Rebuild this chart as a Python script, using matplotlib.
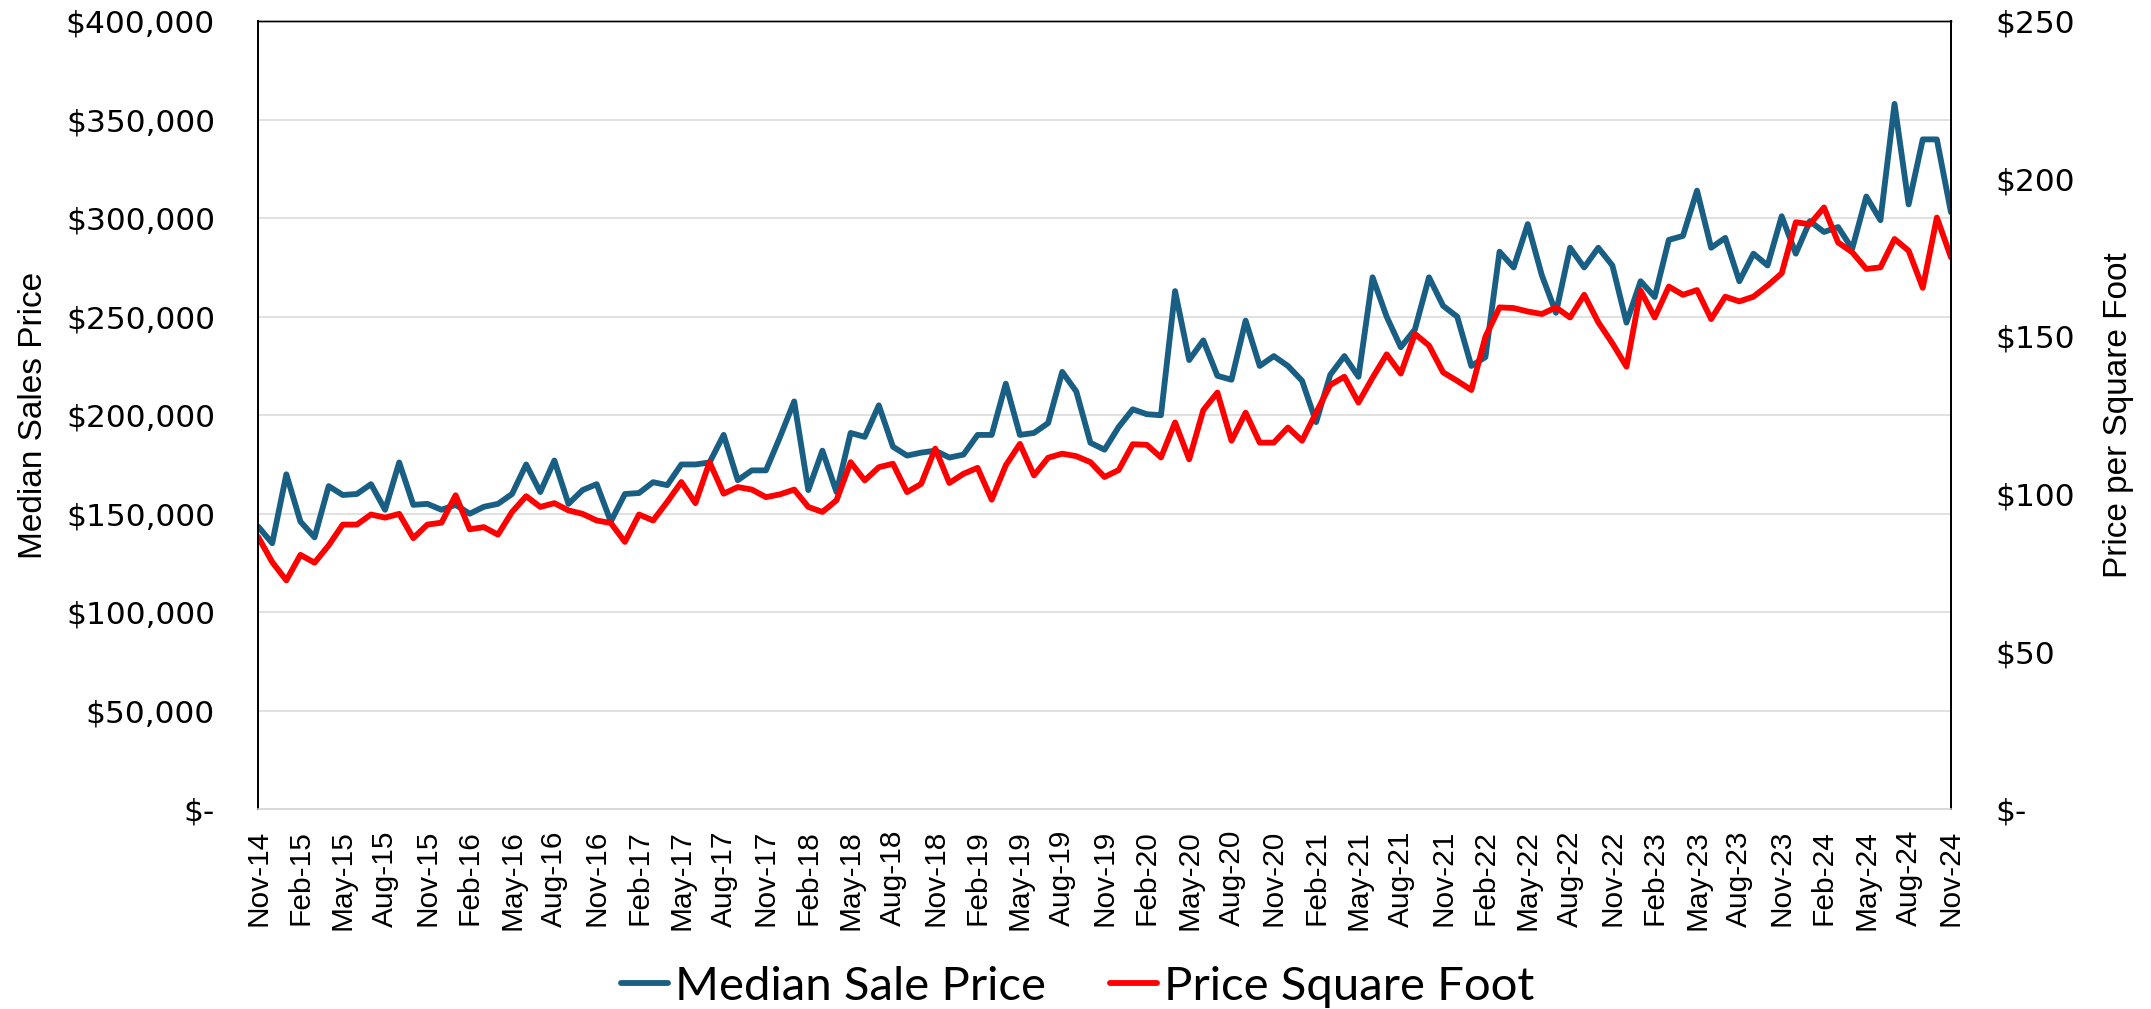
import matplotlib
matplotlib.use("Agg")
import matplotlib.pyplot as plt
import pandas as pd
from matplotlib.ticker import FuncFormatter, MultipleLocator

# monthly categories, Nov-14 .. Nov-24
months = pd.date_range("2014-11-01", periods=121, freq="MS")
month_labels = list(months.strftime("%b-%y"))

median_sale_price = [
    143500, 135000, 170000, 146000, 138000, 164000, 159500, 160000, 165000, 152000,
    176000, 154500, 155000, 152000, 154500, 150000, 153500, 155000, 160000, 175000,
    161000, 177000, 155000, 162000, 165000, 146000, 160000, 160500, 166000, 164500,
    175000, 175000, 176000, 190000, 167000, 172000, 172000, 189000, 207000, 162000,
    182000, 161000, 191000, 189000, 205000, 184000, 179500, 181000, 182000, 178500,
    180000, 190000, 190000, 216000, 190000, 191000, 196000, 222000, 212000, 186000,
    182500, 194000, 203000, 200500, 200000, 263000, 228000, 238000, 220000, 218000,
    248000, 225000, 230000, 225000, 217500, 196500, 220500, 230000, 219500, 270000,
    250000, 234500, 243500, 270000, 255500, 250000, 225000, 229500, 283000, 275000,
    297000, 271000, 252000, 285000, 275000, 285000, 276000, 247000, 268000, 260000,
    289000, 291000, 314000, 285000, 290000, 268000, 282000, 276000, 301000, 282000,
    298500, 293000, 295500, 284500, 311000, 299000, 358000, 307000, 340000, 340000,
    303000,
]

price_square_foot = [
    86.4, 78.4, 72.6, 80.7, 78.2, 83.7, 90.3, 90.3, 93.5, 92.5,
    93.7, 86.0, 90.3, 90.9, 99.6, 88.8, 89.5, 87.1, 94.3, 99.3,
    95.9, 97.1, 94.8, 93.7, 91.6, 90.8, 84.8, 93.5, 91.6, 97.5,
    103.8, 97.1, 110.1, 100.1, 102.2, 101.4, 99.0, 99.9, 101.4, 95.9,
    94.3, 98.0, 110.1, 104.3, 108.5, 109.6, 100.6, 103.2, 114.4, 103.5,
    106.4, 108.3, 98.2, 109.1, 115.9, 105.9, 111.5, 112.8, 112.0, 110.1,
    105.4, 107.6, 115.8, 115.6, 111.6, 122.7, 111.0, 126.6, 132.2, 116.9,
    125.8, 116.3, 116.3, 121.1, 116.9, 125.8, 134.6, 137.2, 129.0, 136.9,
    144.3, 138.2, 150.8, 147.1, 138.6, 135.9, 133.0, 149.9, 159.2, 159.0,
    157.9, 157.1, 159.2, 156.0, 163.2, 154.5, 147.8, 140.4, 164.5, 156.0,
    165.8, 163.2, 164.7, 155.5, 162.6, 161.1, 162.6, 166.1, 170.0, 186.2,
    185.6, 190.9, 179.8, 176.7, 171.4, 171.9, 180.9, 177.2, 165.4, 187.7,
    175.1,
]

BLUE = "#195E83"
RED = "#FF0000"
GRID = "#D9D9D9"


def dollars(v, _pos):
    if v == 0:
        return "$-"
    return "${:,.0f}".format(v)


fig = plt.figure(figsize=(21.51, 10.09), dpi=100)
ax = fig.add_axes([0.12, 0.198, 0.787, 0.781])
ax2 = ax.twinx()

x = range(len(month_labels))
ax.plot(x, median_sale_price, color=BLUE, lw=4.2, label="Median Sale Price",
        solid_joinstyle="round", solid_capstyle="round")
ax2.plot(x, price_square_foot, color=RED, lw=4.2, label="Price Square Foot",
         solid_joinstyle="round", solid_capstyle="round")

ax.set_xlim(0, len(month_labels) - 1)
ax.set_ylim(0, 400000)
ax2.set_ylim(0, 250)
ax.yaxis.set_major_locator(MultipleLocator(50000))
ax2.yaxis.set_major_locator(MultipleLocator(50))
ax.yaxis.set_major_formatter(FuncFormatter(dollars))
ax2.yaxis.set_major_formatter(FuncFormatter(dollars))

ax.set_xticks(list(x)[::3])
ax.set_xticklabels(month_labels[::3], rotation=90, fontsize=21.5,
                   family="Liberation Sans", va="top")

ax.grid(axis="y", color=GRID, lw=1.1)
ax.set_axisbelow(True)

ax.tick_params(axis="x", length=0, pad=15)
ax.tick_params(axis="y", length=0, pad=31, labelsize=22.5)
ax2.tick_params(axis="y", length=0, pad=32, labelsize=22.5)
for lab in ax.get_yticklabels() + ax2.get_yticklabels():
    lab.set_family("DejaVu Sans")

for a in (ax, ax2):
    a.spines["top"].set_color("black")
    a.spines["top"].set_linewidth(1.0)
    a.spines["left"].set_color("black")
    a.spines["left"].set_linewidth(1.3)
    a.spines["right"].set_color("black")
    a.spines["right"].set_linewidth(1.3)
    a.spines["bottom"].set_color(GRID)
    a.spines["bottom"].set_linewidth(1.1)

ax.set_ylabel("Median Sales Price", fontsize=24, family="Liberation Sans")
ax.yaxis.set_label_coords(-0.1235, 0.5)
ax2.set_ylabel("Price per Square Foot", fontsize=24, family="Liberation Sans",
               rotation=90)
ax2.yaxis.set_label_coords(1.090, 0.5)

handles = ax.get_lines() + ax2.get_lines()
fig.legend(handles, [h.get_label() for h in handles], loc="center",
           bbox_to_anchor=(0.501, 0.022), ncol=2, frameon=False,
           prop={"family": "Lato", "size": 34}, handlelength=1.0,
           handletextpad=0.15, columnspacing=1.35)

fig.savefig("out.png", dpi=100)
